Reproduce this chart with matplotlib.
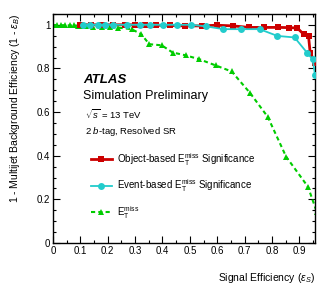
import numpy as np
import matplotlib
matplotlib.use('Agg')
import matplotlib.pyplot as plt
from matplotlib import ticker

plt.rcParams['font.family'] = ['Liberation Sans', 'DejaVu Sans']
plt.rcParams['mathtext.fontset'] = 'custom'
plt.rcParams['mathtext.rm'] = 'Liberation Sans'
plt.rcParams['mathtext.it'] = 'Liberation Sans:italic'

#############################################
# data
# Object-based MET significance
sig_obj = [0.10, 0.14, 0.18, 0.22, 0.263, 0.30, 0.336, 0.378, 0.427, 0.482, 0.543,
           0.598, 0.657, 0.717, 0.773, 0.824, 0.863, 0.893, 0.916, 0.934, 0.94, 0.958]
bkg_obj = [1.0, 1.0, 1.0, 1.0, 1.0, 1.0, 0.999, 0.998, 0.997, 0.995, 0.995,
           0.998, 0.995, 0.988, 0.988, 0.988, 0.987, 0.985, 0.957, 0.949, 0.873, 0.826]

# Event-based MET significance
sig_evt = [0.11, 0.134, 0.165, 0.19, 0.22, 0.269, 0.318, 0.354, 0.403, 0.453, 0.504,
           0.558, 0.623, 0.686, 0.755, 0.82, 0.883, 0.928, 0.949, 0.958]
bkg_evt = [1.0, 1.0, 1.0, 1.0, 1.0, 1.0, 1.0, 1.0, 1.0, 1.0, 1.0,
           0.993, 0.98, 0.98, 0.98, 0.949, 0.942, 0.873, 0.842, 0.770]

# MET only
sig_met = [0.0, 0.015, 0.03, 0.045, 0.06, 0.075, 0.09, 0.105, 0.12, 0.147, 0.177,
           0.208, 0.238, 0.287, 0.322, 0.352, 0.397, 0.437, 0.485, 0.535, 0.594,
           0.653, 0.72, 0.785, 0.852, 0.932, 0.965]
bkg_met = [0.999, 0.999, 0.998, 0.998, 0.997, 0.997, 0.996, 0.995, 0.994, 0.988, 0.988,
           0.988, 0.987, 0.98, 0.957, 0.911, 0.906, 0.873, 0.86, 0.842, 0.814,
           0.786, 0.688, 0.578, 0.396, 0.258, 0.14]

#############################################
# figure
fig = plt.figure(figsize=(3.32, 2.89), dpi=100)
ax = fig.add_axes([0.160, 0.159, 0.789, 0.793])

ax.plot(sig_met, bkg_met, '--', color='#00cc00', linewidth=1.5, marker='^',
        markersize=4.5, markeredgewidth=0, dashes=(2, 1.5),
        label=r'E$_\mathrm{T}^\mathrm{miss}$', zorder=2)
ax.plot(sig_obj, bkg_obj, '-', color='#cc0000', linewidth=2.0, marker='s',
        markersize=4.5, markeredgewidth=0,
        label=r'Object-based E$_\mathrm{T}^\mathrm{miss}$ Significance', zorder=3)
ax.plot(sig_evt, bkg_evt, '-', color='#22cccc', linewidth=1.3, marker='o',
        markersize=5, markeredgewidth=0,
        label=r'Event-based E$_\mathrm{T}^\mathrm{miss}$ Significance', zorder=4)

ax.set_xlim(0, 0.958)
ax.set_ylim(0, 1.05)

# ROOT-like ticks
ax.xaxis.set_major_locator(ticker.MultipleLocator(0.1))
ax.xaxis.set_minor_locator(ticker.MultipleLocator(0.05))
ax.yaxis.set_major_locator(ticker.MultipleLocator(0.2))
ax.yaxis.set_minor_locator(ticker.MultipleLocator(0.05))
ax.xaxis.set_major_formatter(ticker.FormatStrFormatter('%g'))
ax.yaxis.set_major_formatter(ticker.FormatStrFormatter('%g'))
ax.tick_params(which='both', direction='in', top=True, right=True, labelsize=7, pad=2)
ax.tick_params(which='major', length=5, width=0.8)
ax.tick_params(which='minor', length=2.5, width=0.8)
for s in ax.spines.values():
    s.set_linewidth(1.0)

ax.set_xlabel(r'Signal Efficiency ($\epsilon_S$)', fontsize=7.5, loc='right', labelpad=11)
ax.set_ylabel(r'1 - Multijet Background Efficiency (1 - $\epsilon_B$)', fontsize=7.5,
              loc='top', labelpad=11)

# labels
ax.text(0.115, 0.7, 'ATLAS', transform=ax.transAxes, fontsize=9.5,
        fontweight='bold', fontstyle='italic')
ax.text(0.115, 0.63, 'Simulation Preliminary', transform=ax.transAxes, fontsize=9)
ax.text(0.12, 0.54, r'$\sqrt{s}$ = 13 TeV', transform=ax.transAxes, fontsize=6.8)
ax.text(0.12, 0.475, r'2 $b$-tag, Resolved SR', transform=ax.transAxes, fontsize=6.8)

h, l = ax.get_legend_handles_labels()
ax.legend([h[1], h[2], h[0]], [l[1], l[2], l[0]], loc='upper left',
          bbox_to_anchor=(0.11, 0.44), frameon=False, fontsize=7,
          handlelength=2.2, labelspacing=1.0, handletextpad=0.5)

fig.savefig('out.png', dpi=100)
